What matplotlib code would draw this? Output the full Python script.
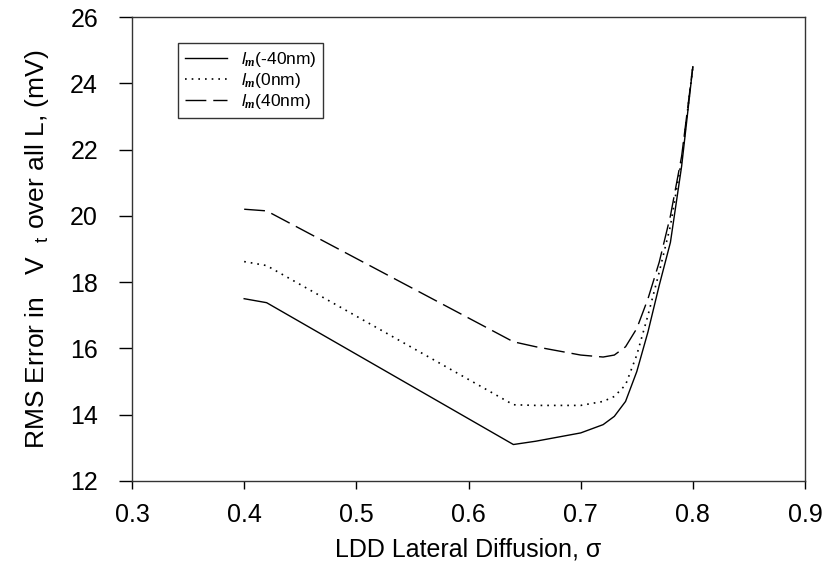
import matplotlib
matplotlib.use('Agg')
import matplotlib.pyplot as plt

plt.rcParams['font.family'] = ['Liberation Sans', 'DejaVu Sans']
plt.rcParams['mathtext.fontset'] = 'custom'
plt.rcParams['mathtext.rm'] = 'Liberation Sans'
plt.rcParams['mathtext.it'] = 'Liberation Sans:italic'
plt.rcParams['mathtext.bf'] = 'Liberation Serif:bold:italic'

# datos
sigma = [0.40, 0.42, 0.64, 0.66, 0.70, 0.72, 0.73, 0.74, 0.75, 0.76, 0.77, 0.78, 0.79, 0.80]
erro_m40 = [17.5, 17.38, 13.1, 13.2, 13.45, 13.7, 13.95, 14.4, 15.3, 16.5, 17.9, 19.2, 21.5, 24.5]
erro_0 = [18.62, 18.5, 14.3, 14.28, 14.28, 14.4, 14.55, 14.9, 15.8, 17.0, 18.3, 19.7, 21.7, 24.5]
erro_40 = [20.2, 20.15, 16.2, 16.05, 15.8, 15.74, 15.8, 16.05, 16.6, 17.5, 18.6, 20.0, 21.8, 24.5]
rotulos = [r'$l_{\mathbf{m}}$(-40nm)', r'$l_{\mathbf{m}}$(0nm)', r'$l_{\mathbf{m}}$(40nm)']

fig = plt.figure(figsize=(8.37, 5.69), dpi=100)
ax = fig.add_axes([0.1577, 0.1547, 0.8041, 0.8154])

ax.plot(sigma, erro_m40, color='black', lw=1.0, ls='-', label=rotulos[0])
ax.plot(sigma, erro_0, color='black', lw=1.2, ls=(0, (1, 3)), label=rotulos[1])
ax.plot(sigma, erro_40, color='black', lw=1.0, ls=(0, (15, 5)), label=rotulos[2])

ax.set_xlim(0.3, 0.9)
ax.set_ylim(12, 26)
ax.set_xticks([0.3, 0.4, 0.5, 0.6, 0.7, 0.8, 0.9])
ax.set_yticks(range(12, 27, 2))
ax.tick_params(axis='x', direction='out', length=5.5, width=1, labelsize=18, pad=10, top=False)
ax.tick_params(axis='y', direction='out', length=9.4, width=1, labelsize=18, pad=15, right=False)
for s in ax.spines.values():
    s.set_linewidth(1)
    s.set_color('#333333')

ax.set_xlabel('LDD Lateral Diffusion, σ', fontsize=18, labelpad=8)
ax.set_ylabel(r'RMS Error in   V  $_{\mathregular{t}}$ over all L, (mV)', fontsize=19, labelpad=14)

leg = ax.legend(loc='upper left', bbox_to_anchor=(0.0684, 0.944), fontsize=12.5,
                frameon=True, fancybox=False, edgecolor='black', handlelength=2.4,
                handletextpad=0.8, borderpad=0.4, labelspacing=0.12, borderaxespad=0)
leg.get_frame().set_linewidth(1)

fig.savefig('out.png', dpi=100)
